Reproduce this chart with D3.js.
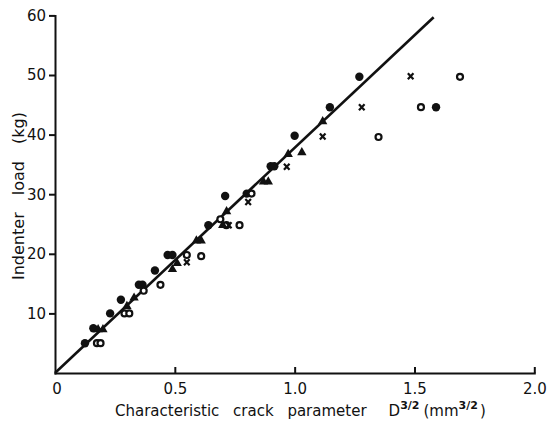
<!DOCTYPE html>
<meta charset="utf-8">
<head>
    <title>Indenter load vs crack parameter</title>
    <script src="https://d3js.org/d3.v7.min.js"></script>
</head>

<style>
body { margin: 0; background: #fff; }
svg { display: block; }
.axis path, .axis line { stroke: #111; stroke-width: 2px; }
.axis text { font-family: "DejaVu Sans", sans-serif; font-size: 15px; fill: #111; }
.title { font-family: "DejaVu Sans", sans-serif; font-size: 15px; fill: #111; }
</style>

<body>
<svg></svg>

<script>

// values: [D^3/2 (mm^3/2), load (kg)]
let filledPts = [
  [0.125, 5], [0.16, 7.5], [0.23, 10], [0.275, 12.3], [0.35, 14.8], [0.365, 14.8],
  [0.417, 17.2], [0.47, 19.8], [0.49, 19.8], [0.64, 24.8], [0.71, 29.7],
  [0.80, 30.1], [0.90, 34.7], [0.915, 34.7], [1.00, 39.8], [1.147, 44.6],
  [1.27, 49.7], [1.59, 44.6]
];
let openPts = [
  [0.175, 5], [0.19, 5], [0.29, 10], [0.31, 10], [0.37, 13.8], [0.44, 14.8],
  [0.55, 19.8], [0.61, 19.6], [0.69, 25.8], [0.715, 24.8], [0.77, 24.8],
  [0.82, 30.1], [1.35, 39.6], [1.527, 44.6], [1.69, 49.7]
];
let trianglePts = [
  [0.18, 7.3], [0.20, 7.3], [0.30, 11.2], [0.33, 12.6], [0.49, 17.4], [0.51, 18.4],
  [0.59, 22.2], [0.61, 22.2], [0.70, 24.8], [0.716, 27.1], [0.87, 32.1],
  [0.89, 32.1], [0.973, 36.7], [1.03, 37.0], [1.117, 42.2]
];
let crossPts = [
  [0.55, 18.6], [0.725, 24.8], [0.806, 28.7], [0.967, 34.6], [1.117, 39.7],
  [1.28, 44.6], [1.484, 49.8]
];
let fitLine = [[0, 0], [1.58, 59.7]];

let xTicks = [0.5, 1.0, 1.5, 2.0];
let yTicks = [10, 20, 30, 40, 50, 60];

let width = 547, height = 423;

let x = d3.scaleLinear().domain([0, 2]).range([55, 534.3]);
let y = d3.scaleLinear().domain([0, 60]).range([373, 15.4]);

let svg = d3.select("svg")
    .attr("width", width)
    .attr("height", height);

// x axis, ticks pointing up into the plot
let xAxis = svg.append("g")
    .attr("class", "axis")
    .attr("transform", "translate(0," + y(0) + ")")
    .call(d3.axisBottom(x)
      .tickValues(xTicks)
      .tickSizeInner(-6)
      .tickSizeOuter(0)
      .tickPadding(10)
      .tickFormat(d3.format(".1f")));
xAxis.append("text")
    .attr("x", x(0) + 2)
    .attr("y", 10)
    .attr("dy", "0.71em")
    .attr("text-anchor", "middle")
    .style("fill", "#111")
    .text("0");

// y axis
svg.append("g")
    .attr("class", "axis")
    .attr("transform", "translate(" + x(0) + ",0)")
    .call(d3.axisLeft(y)
      .tickValues(yTicks)
      .tickSizeInner(6)
      .tickSizeOuter(0)
      .tickPadding(3));

svg.selectAll(".axis path").attr("stroke-linecap", "square");

// fitted line
svg.append("path")
    .datum(fitLine)
    .attr("fill", "none")
    .attr("stroke", "#111")
    .attr("stroke-width", 2.6)
    .attr("d", d3.line().x(d => x(d[0])).y(d => y(d[1])));

// markers
svg.selectAll(".filled")
  .data(filledPts)
  .enter().append("circle")
    .attr("class", "filled")
    .attr("cx", d => x(d[0]))
    .attr("cy", d => y(d[1]))
    .attr("r", 4.2)
    .attr("fill", "#111");

svg.selectAll(".open")
  .data(openPts)
  .enter().append("circle")
    .attr("class", "open")
    .attr("cx", d => x(d[0]))
    .attr("cy", d => y(d[1]))
    .attr("r", 3)
    .attr("fill", "#fff")
    .attr("stroke", "#111")
    .attr("stroke-width", 2.2);

svg.selectAll(".tri")
  .data(trianglePts)
  .enter().append("path")
    .attr("class", "tri")
    .attr("transform", d => "translate(" + x(d[0]) + "," + y(d[1]) + ")")
    .attr("d", d3.symbol().type(d3.symbolTriangle).size(38))
    .attr("fill", "#111");

svg.selectAll(".cross")
  .data(crossPts)
  .enter().append("path")
    .attr("class", "cross")
    .attr("transform", d => "translate(" + x(d[0]) + "," + y(d[1]) + ")")
    .attr("d", "M-2.8,-3L2.8,3M-2.8,3L2.8,-3")
    .attr("stroke", "#111")
    .attr("stroke-width", 2.2);

// axis titles
svg.append("text")
    .attr("class", "title")
    .attr("transform", "translate(24,196) rotate(-90)")
    .attr("text-anchor", "middle")
    .style("font-size", "16px")
    .style("word-spacing", "12px")
    .text("Indenter load (kg)");

let xt = svg.append("text")
    .attr("class", "title")
    .attr("x", 115)
    .attr("y", 416)
    .style("word-spacing", "9px");
xt.append("tspan").text("Characteristic crack parameter");
xt.append("tspan").attr("dx", 22).text("D");
xt.append("tspan").attr("dy", -7).style("font-size", "11px").style("font-weight", "bold").text("3/2");
xt.append("tspan").attr("dy", 7).attr("dx", 4).text("(mm");
xt.append("tspan").attr("dy", -7).style("font-size", "11px").style("font-weight", "bold").text("3/2");
xt.append("tspan").attr("dy", 7).attr("dx", 2).text(")");

</script>
</body>
